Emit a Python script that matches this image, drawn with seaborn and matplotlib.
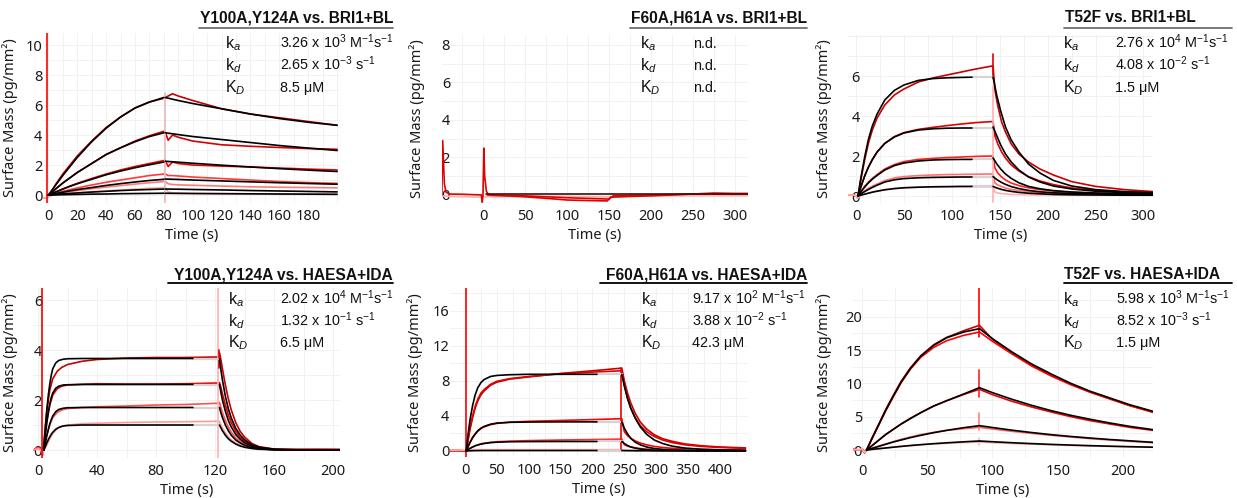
import matplotlib
matplotlib.use('Agg')
import matplotlib.pyplot as plt
import seaborn as sns
from matplotlib.lines import Line2D
from matplotlib.ticker import AutoMinorLocator

# ---------------- data ----------------
# Panel 1: Y100A,Y124A vs. BRI1+BL
p1_t_fit_on = [0, 5, 10, 15, 20, 30, 40, 50, 60, 70, 80]
p1_fit_on = [
    [0, 0.65, 1.3, 1.9, 2.5, 3.55, 4.45, 5.2, 5.8, 6.2, 6.5],
    [0, 0.4, 0.8, 1.15, 1.5, 2.1, 2.7, 3.15, 3.55, 3.9, 4.15],
    [0, 0.2, 0.4, 0.58, 0.75, 1.05, 1.35, 1.6, 1.82, 2.02, 2.2],
    [0, 0.1, 0.19, 0.28, 0.36, 0.5, 0.64, 0.76, 0.87, 0.97, 1.05],
    [0, 0.04, 0.08, 0.11, 0.14, 0.2, 0.25, 0.3, 0.34, 0.37, 0.4],
    [0, 0.01, 0.02, 0.03, 0.04, 0.06, 0.07, 0.09, 0.1, 0.11, 0.12],
]
p1_t_fit_off = [81, 90, 100, 120, 140, 160, 180, 200]
p1_fit_off = [
    [6.5, 6.3, 6.1, 5.75, 5.4, 5.1, 4.85, 4.65],
    [4.15, 4.03, 3.9, 3.7, 3.5, 3.3, 3.13, 2.97],
    [2.25, 2.19, 2.12, 1.99, 1.87, 1.76, 1.66, 1.57],
    [1.07, 1.04, 1.0, 0.94, 0.88, 0.82, 0.77, 0.72],
    [0.4, 0.39, 0.37, 0.34, 0.3, 0.27, 0.24, 0.21],
    [0.12, 0.11, 0.1, 0.09, 0.08, 0.07, 0.06, 0.05],
]
p1_t_obs_on = [-3.5, -1, 0, 5, 10, 15, 20, 30, 40, 50, 60, 70, 80]
p1_obs_on = [
    [-0.2, -0.2, -0.1, 0.7, 1.4, 2.0, 2.6, 3.6, 4.5, 5.2, 5.8, 6.2, 6.45],
    [-0.2, -0.2, -0.1, 0.4, 0.8, 1.15, 1.5, 2.1, 2.7, 3.15, 3.6, 3.95, 4.25],
    [-0.2, -0.2, -0.1, 0.2, 0.4, 0.6, 0.78, 1.1, 1.4, 1.67, 1.9, 2.1, 2.3],
    [-0.2, -0.2, -0.1, 0.12, 0.25, 0.36, 0.47, 0.67, 0.85, 1.0, 1.15, 1.3, 1.4],
    [-0.2, -0.2, -0.1, 0.08, 0.16, 0.23, 0.3, 0.42, 0.53, 0.63, 0.73, 0.82, 0.9],
    [-0.2, -0.2, -0.1, 0.04, 0.08, 0.12, 0.16, 0.22, 0.28, 0.34, 0.4, 0.45, 0.5],
]
p1_t_obs_off = [81, 83, 86, 90, 100, 120, 140, 160, 180, 200]
p1_obs_off = [
    [6.5, 6.6, 6.75, 6.6, 6.3, 5.75, 5.4, 5.15, 4.9, 4.65],
    [4.2, 3.65, 4.0, 3.85, 3.6, 3.35, 3.25, 3.17, 3.1, 3.05],
    [2.3, 1.9, 2.2, 2.1, 2.0, 1.93, 1.87, 1.8, 1.73, 1.67],
    [1.4, 1.3, 1.3, 1.27, 1.2, 1.1, 1.0, 0.9, 0.83, 0.78],
    [0.9, 0.75, 0.7, 0.68, 0.65, 0.6, 0.55, 0.52, 0.5, 0.48],
    [0.5, 0.2, 0.15, 0.15, 0.12, 0.1, 0.08, 0.05, 0.05, 0.04],
]
p1_spike_t = [-1, 80.5]
p1_spike_lo = [-0.5, -0.5]
p1_spike_hi = [12, 6.8]

# Panel 2: F60A,H61A vs. BRI1+BL (no binding)
p2_t_obs_a = [-49, -48, -46, -44, -40, -20, -2, -1, 0, 1, 2, 4, 6, 10, 30, 50,
              75, 100, 125, 148, 152, 175, 200, 225, 250, 275, 300, 315]
p2_obs_a = [0.0, 2.9, 0.6, 0.15, 0.05, 0.03, 0.0, -0.4, 0.0, 2.5, 1.0, 0.2, 0.05,
            -0.02, -0.05, -0.1, -0.18, -0.27, -0.3, -0.32, -0.12, -0.08, -0.05,
            0.0, 0.05, 0.1, 0.08, 0.08]
p2_t_obs_b = [5, 50, 100, 150, 155, 200, 250, 315]
p2_obs_b = [0.0, -0.05, -0.15, -0.22, -0.05, 0.0, 0.05, 0.05]
p2_t_obs_c = [-49, -40, -20, -2, 0, 10, 50, 100, 150, 200, 250, 315]
p2_obs_c = [-0.05, -0.08, -0.1, -0.12, -0.1, -0.1, -0.08, -0.08, -0.1, -0.05, -0.05, -0.05]
p2_t_fit = [3, 315]
p2_fit = [0.03, 0.03]

# Panel 3: T52F vs. BRI1+BL
p3_t_fit_on = [2, 5, 9, 13, 17, 22, 30, 40, 50, 65, 80, 95, 110, 121]
p3_fit_on = [
    [0, 0.9, 1.95, 2.85, 3.5, 4.1, 4.8, 5.28, 5.55, 5.78, 5.87, 5.91, 5.93, 5.94],
    [0, 0.45, 1.0, 1.45, 1.82, 2.2, 2.63, 2.95, 3.15, 3.3, 3.36, 3.39, 3.4, 3.4],
    [0, 0.2, 0.45, 0.66, 0.84, 1.03, 1.3, 1.52, 1.65, 1.75, 1.8, 1.82, 1.83, 1.83],
    [0, 0.1, 0.22, 0.33, 0.43, 0.54, 0.7, 0.81, 0.87, 0.91, 0.93, 0.94, 0.95, 0.95],
    [0, 0.04, 0.09, 0.14, 0.19, 0.24, 0.31, 0.37, 0.41, 0.44, 0.46, 0.47, 0.48, 0.48],
]
p3_t_fit_off = [143, 147, 151, 156, 162, 170, 180, 192, 206, 225, 250, 280, 310]
p3_fit_off = [
    [5.95, 5.0, 4.25, 3.45, 2.8, 2.2, 1.6, 1.15, 0.78, 0.5, 0.32, 0.22, 0.17],
    [3.45, 3.0, 2.55, 2.1, 1.7, 1.3, 0.95, 0.7, 0.5, 0.35, 0.24, 0.17, 0.13],
    [1.9, 1.6, 1.35, 1.1, 0.88, 0.66, 0.48, 0.36, 0.27, 0.2, 0.15, 0.12, 0.1],
    [0.97, 0.82, 0.7, 0.58, 0.47, 0.37, 0.28, 0.21, 0.16, 0.13, 0.1, 0.08, 0.07],
    [0.48, 0.4, 0.34, 0.28, 0.23, 0.18, 0.14, 0.11, 0.08, 0.06, 0.05, 0.04, 0.04],
]
p3_t_obs_on = [-8, -3, 0, 2, 5, 9, 13, 17, 22, 30, 40, 50, 65, 80, 95, 110, 125, 142]
p3_obs_on = [
    [0.05, 0.05, 0.0, -0.1, 0.8, 1.8, 2.65, 3.3, 3.9, 4.55, 5.05, 5.35, 5.7, 5.9, 6.05, 6.2, 6.35, 6.5],
    [0.05, 0.05, 0.0, -0.1, 0.45, 1.0, 1.45, 1.82, 2.2, 2.63, 2.97, 3.17, 3.33, 3.43, 3.52, 3.6, 3.67, 3.72],
    [0.05, 0.05, 0.0, -0.1, 0.22, 0.48, 0.7, 0.88, 1.07, 1.35, 1.57, 1.72, 1.83, 1.88, 1.92, 1.95, 1.98, 2.0],
    [0.05, 0.05, 0.0, -0.1, 0.12, 0.26, 0.38, 0.49, 0.6, 0.77, 0.9, 0.97, 1.02, 1.05, 1.07, 1.08, 1.09, 1.1],
    [0.05, 0.05, 0.0, -0.1, 0.05, 0.1, 0.15, 0.2, 0.25, 0.32, 0.38, 0.42, 0.44, 0.45, 0.45, 0.46, 0.46, 0.46],
]
p3_t_obs_off = [143, 145, 148, 152, 156, 162, 170, 180, 192, 206, 225, 250, 280, 310]
p3_obs_off = [
    [6.5, 5.3, 4.5, 3.7, 3.2, 2.6, 2.1, 1.7, 1.35, 1.05, 0.72, 0.48, 0.32, 0.22],
    [3.72, 3.0, 2.6, 2.2, 1.9, 1.55, 1.25, 0.97, 0.75, 0.57, 0.4, 0.28, 0.2, 0.16],
    [2.0, 1.4, 1.15, 0.95, 0.8, 0.65, 0.52, 0.41, 0.32, 0.25, 0.18, 0.14, 0.11, 0.1],
    [1.1, 0.65, 0.55, 0.47, 0.4, 0.33, 0.27, 0.22, 0.17, 0.14, 0.11, 0.09, 0.08, 0.08],
    [0.46, 0.2, 0.15, 0.12, 0.1, 0.08, 0.07, 0.06, 0.05, 0.05, 0.05, 0.05, 0.05, 0.05],
]
p3_spike_t = [143, 143]
p3_spike_lo = [-0.3, 5.9]
p3_spike_hi = [5.5, 7.1]

# Panel 4: Y100A,Y124A vs. HAESA+IDA
p4_t_fit_on = [4, 5, 6, 7, 8, 9, 10, 12, 14, 17, 20, 30, 50, 80, 105]
p4_fit_on = [
    [0, 0.9, 1.6, 2.2, 2.65, 3.0, 3.25, 3.48, 3.58, 3.63, 3.65, 3.66, 3.66, 3.66, 3.66],
    [0, 0.6, 1.1, 1.5, 1.85, 2.1, 2.28, 2.47, 2.55, 2.6, 2.61, 2.62, 2.62, 2.62, 2.62],
    [0, 0.3, 0.58, 0.83, 1.05, 1.22, 1.36, 1.53, 1.62, 1.67, 1.69, 1.7, 1.7, 1.7, 1.7],
    [0, 0.15, 0.29, 0.42, 0.53, 0.63, 0.71, 0.83, 0.9, 0.96, 0.98, 1.0, 1.0, 1.0, 1.0],
]
p4_t_fit_off = [123, 124, 125, 127, 129, 131, 134, 137, 140, 145, 150, 160, 175, 205]
p4_fit_off = [
    [3.66, 3.2, 2.8, 2.15, 1.65, 1.28, 0.87, 0.6, 0.41, 0.21, 0.11, 0.03, 0.01, 0.0],
    [2.62, 2.3, 2.0, 1.55, 1.18, 0.92, 0.62, 0.43, 0.29, 0.15, 0.08, 0.02, 0.0, 0.0],
    [1.7, 1.48, 1.3, 1.0, 0.77, 0.59, 0.4, 0.28, 0.19, 0.1, 0.05, 0.01, 0.0, 0.0],
    [1.0, 0.88, 0.77, 0.59, 0.45, 0.35, 0.24, 0.16, 0.11, 0.06, 0.03, 0.01, 0.0, 0.0],
]
p4_t_obs_on = [-3, 0, 2, 3, 4, 5, 6, 8, 10, 13, 16, 20, 30, 40, 60, 80, 100, 122]
p4_obs_on = [
    [0.0, 0.1, 0.0, -0.2, 0.3, 1.0, 1.6, 2.4, 2.85, 3.15, 3.3, 3.42, 3.55, 3.62, 3.68, 3.7, 3.7, 3.72],
    [0.0, 0.1, 0.0, -0.2, 0.3, 0.8, 1.2, 1.8, 2.2, 2.45, 2.55, 2.6, 2.63, 2.65, 2.64, 2.64, 2.65, 2.68],
    [0.0, 0.1, 0.0, -0.2, 0.1, 0.35, 0.6, 1.0, 1.3, 1.5, 1.6, 1.66, 1.7, 1.73, 1.76, 1.8, 1.82, 1.87],
    [0.0, 0.05, 0.0, -0.2, 0.0, 0.1, 0.2, 0.45, 0.65, 0.85, 0.95, 1.0, 1.05, 1.07, 1.1, 1.12, 1.13, 1.15],
]
p4_t_obs_off = [123, 124, 125, 127, 129, 131, 134, 137, 140, 145, 150, 160, 175, 190, 205]
p4_obs_off = [
    [3.9, 3.6, 3.25, 2.6, 2.05, 1.6, 1.1, 0.75, 0.52, 0.26, 0.13, 0.04, 0.02, 0.03, 0.02],
    [2.7, 2.5, 2.25, 1.8, 1.4, 1.1, 0.75, 0.5, 0.35, 0.18, 0.09, 0.03, 0.02, 0.02, 0.02],
    [1.9, 1.7, 1.5, 1.18, 0.92, 0.71, 0.48, 0.33, 0.23, 0.12, 0.06, 0.02, 0.01, 0.02, 0.01],
    [1.15, 1.0, 0.88, 0.68, 0.53, 0.41, 0.28, 0.19, 0.13, 0.07, 0.04, 0.01, 0.01, 0.01, 0.01],
]
p4_spike_t = [3, 122, 123]
p4_spike_lo = [-0.3, -0.3, 3.3]
p4_spike_hi = [7.0, 7.0, 4.0]

# Panel 5: F60A,H61A vs. HAESA+IDA
p5_t_fit_on = [2, 5, 8, 12, 16, 20, 25, 30, 40, 50, 70, 100, 150, 207]
p5_fit_on = [
    [0, 2.0, 3.6, 5.2, 6.4, 7.2, 7.8, 8.15, 8.5, 8.62, 8.7, 8.75, 8.75, 8.75],
    [0, 0.55, 1.0, 1.55, 1.95, 2.3, 2.6, 2.8, 3.05, 3.18, 3.27, 3.3, 3.32, 3.32],
    [0, 0.15, 0.3, 0.45, 0.58, 0.68, 0.78, 0.85, 0.95, 1.0, 1.05, 1.07, 1.08, 1.08],
    [0, 0.01, 0.02, 0.03, 0.04, 0.04, 0.05, 0.05, 0.05, 0.05, 0.05, 0.05, 0.05, 0.05],
]
p5_t_off = [246, 250, 255, 260, 267, 275, 285, 297, 310, 325, 345, 370, 400, 440]
p5_fit_off = [
    [8.75, 7.4, 6.0, 4.9, 3.75, 2.75, 1.9, 1.25, 0.85, 0.55, 0.33, 0.2, 0.13, 0.08],
    [3.32, 2.6, 1.95, 1.45, 1.0, 0.7, 0.45, 0.28, 0.18, 0.12, 0.08, 0.05, 0.04, 0.03],
    [1.08, 0.85, 0.62, 0.46, 0.32, 0.22, 0.14, 0.09, 0.06, 0.04, 0.03, 0.02, 0.02, 0.02],
    [0.05, 0.04, 0.03, 0.03, 0.02, 0.02, 0.02, 0.01, 0.01, 0.01, 0.01, 0.01, 0.01, 0.01],
]
p5_t_obs_on = [-23, -10, 0, 1, 2, 5, 8, 12, 16, 20, 25, 30, 40, 50, 70, 100, 150, 200, 245]
p5_obs_on = [
    [0.05, 0.05, 0.0, 0.0, 0.0, 1.3, 2.5, 3.8, 4.9, 5.7, 6.4, 6.85, 7.5, 7.85, 8.2, 8.45, 8.85, 9.15, 9.45],
    [0.05, 0.05, 0.0, 0.0, 0.0, 1.4, 2.7, 4.0, 5.1, 5.9, 6.6, 7.0, 7.6, 7.95, 8.25, 8.5, 8.8, 9.0, 9.15],
    [0.05, 0.05, 0.0, 0.0, 0.0, 0.5, 0.95, 1.5, 1.9, 2.25, 2.55, 2.75, 3.0, 3.15, 3.28, 3.38, 3.48, 3.58, 3.68],
    [0.05, 0.05, 0.0, 0.0, 0.0, 0.15, 0.3, 0.45, 0.6, 0.7, 0.8, 0.88, 0.98, 1.05, 1.12, 1.18, 1.25, 1.3, 1.35],
    [0.1, 0.1, 0.1, 0.1, 0.1, 0.12, 0.13, 0.14, 0.15, 0.15, 0.15, 0.15, 0.15, 0.15, 0.15, 0.15, 0.15, 0.15, 0.15],
]
p5_obs_off = [
    [9.45, 8.0, 6.6, 5.5, 4.3, 3.3, 2.5, 1.85, 1.4, 1.1, 0.8, 0.6, 0.45, 0.35],
    [9.15, 7.5, 6.0, 4.9, 3.8, 2.9, 2.2, 1.65, 1.25, 0.95, 0.7, 0.52, 0.4, 0.3],
    [3.68, 2.2, 1.75, 1.45, 1.15, 0.9, 0.7, 0.52, 0.4, 0.3, 0.22, 0.16, 0.12, 0.1],
    [1.35, 0.7, 0.55, 0.45, 0.36, 0.28, 0.21, 0.16, 0.12, 0.1, 0.08, 0.06, 0.05, 0.05],
    [0.15, 0.1, 0.1, 0.1, 0.1, 0.1, 0.1, 0.1, 0.1, 0.1, 0.1, 0.1, 0.1, 0.1],
]
p5_spike_t = [1.5, 245]
p5_spike_lo = [-0.7, 0.2]
p5_spike_hi = [19.0, 9.5]

# Panel 6: T52F vs. HAESA+IDA
p6_t_fit_on = [3.5, 8, 13, 18, 24, 30, 37, 45, 55, 65, 78, 90]
p6_fit_on = [
    [0, 1.9, 3.9, 5.9, 8.1, 10.2, 12.2, 14.1, 15.7, 16.85, 17.7, 18.2],
    [0, 0.7, 1.5, 2.3, 3.1, 3.9, 4.7, 5.6, 6.6, 7.4, 8.4, 9.35],
    [0, 0.25, 0.55, 0.85, 1.2, 1.5, 1.85, 2.2, 2.6, 2.95, 3.35, 3.65],
    [0, 0.1, 0.2, 0.3, 0.42, 0.54, 0.67, 0.8, 0.95, 1.08, 1.23, 1.35],
]
p6_t_off = [90, 100, 115, 130, 145, 160, 175, 190, 205, 223]
p6_fit_off = [
    [18.2, 16.7, 14.7, 12.9, 11.4, 10.0, 8.8, 7.8, 6.8, 5.8],
    [9.35, 8.6, 7.6, 6.7, 5.9, 5.2, 4.6, 4.05, 3.55, 3.05],
    [3.65, 3.37, 2.97, 2.62, 2.3, 2.03, 1.79, 1.57, 1.38, 1.15],
    [1.35, 1.24, 1.09, 0.96, 0.84, 0.74, 0.65, 0.57, 0.5, 0.42],
]
p6_t_obs_on = [-7, -2, 0, 2, 3.5, 8, 13, 18, 24, 30, 37, 45, 55, 65, 78, 90]
p6_obs_on = [
    [0.1, 0.0, 0.2, -0.4, 0.0, 1.9, 3.9, 6.0, 8.2, 10.3, 12.3, 14.1, 15.8, 16.9, 17.9, 18.7],
    [0.1, 0.0, 0.2, -0.4, 0.0, 1.8, 3.8, 5.8, 8.0, 10.1, 12.1, 13.9, 15.4, 16.4, 17.2, 17.7],
    [0.1, 0.0, 0.2, -0.4, 0.0, 0.7, 1.5, 2.3, 3.1, 3.9, 4.75, 5.6, 6.6, 7.4, 8.35, 9.1],
    [0.1, 0.0, 0.2, -0.4, 0.0, 0.3, 0.6, 0.9, 1.25, 1.6, 1.95, 2.3, 2.65, 2.95, 3.2, 3.4],
    [0.1, 0.0, 0.2, -0.4, 0.0, 0.1, 0.2, 0.3, 0.42, 0.53, 0.65, 0.78, 0.9, 1.0, 1.12, 1.2],
]
p6_obs_off = [
    [18.7, 16.6, 14.5, 12.7, 11.2, 9.85, 8.7, 7.7, 6.7, 5.7],
    [17.7, 16.3, 14.4, 12.6, 11.1, 9.8, 8.65, 7.65, 6.65, 5.65],
    [9.1, 8.3, 7.3, 6.45, 5.7, 5.0, 4.4, 3.9, 3.4, 2.95],
    [3.4, 3.15, 2.8, 2.5, 2.2, 1.95, 1.7, 1.5, 1.3, 1.1],
    [1.2, 1.1, 0.98, 0.87, 0.77, 0.68, 0.6, 0.53, 0.46, 0.4],
]
p6_spike_t = [90, 90, 90, 90]
p6_spike_lo = [17.0, 8.0, 3.0, 0.8]
p6_spike_hi = [25.0, 12.0, 5.5, 1.8]

titles = ['Y100A,Y124A vs. BRI1+BL', 'F60A,H61A vs. BRI1+BL', 'T52F vs. BRI1+BL',
          'Y100A,Y124A vs. HAESA+IDA', 'F60A,H61A vs. HAESA+IDA', 'T52F vs. HAESA+IDA']
param_names = ['k$_a$', 'k$_d$', 'K$_D$']
param_values = [
    ['3.26 x 10$^{3}$ M$^{-1}$s$^{-1}$', '2.65 x 10$^{-3}$ s$^{-1}$', '8.5 μM'],
    ['n.d.', 'n.d.', 'n.d.'],
    ['2.76 x 10$^{4}$ M$^{-1}$s$^{-1}$', '4.08 x 10$^{-2}$ s$^{-1}$', '1.5 μM'],
    ['2.02 x 10$^{4}$ M$^{-1}$s$^{-1}$', '1.32 x 10$^{-1}$ s$^{-1}$', '6.5 μM'],
    ['9.17 x 10$^{2}$ M$^{-1}$s$^{-1}$', '3.88 x 10$^{-2}$ s$^{-1}$', '42.3 μM'],
    ['5.98 x 10$^{3}$ M$^{-1}$s$^{-1}$', '8.52 x 10$^{-3}$ s$^{-1}$', '1.5 μM'],
]
x_ticks = [list(range(0, 181, 20)), list(range(0, 301, 50)), list(range(0, 301, 50)),
           list(range(0, 201, 40)), list(range(0, 401, 50)), list(range(0, 201, 50))]
y_ticks = [[0, 2, 4, 6, 8, 10], [0, 2, 4, 6, 8], [0, 2, 4, 6],
           [0, 2, 4, 6], [0, 4, 8, 12, 16], [0, 5, 10, 15, 20]]

# ---------------- style ----------------
sns.set_theme(style='white')
plt.rcParams['font.family'] = ['Noto Sans', 'DejaVu Sans']
plt.rcParams['mathtext.fontset'] = 'custom'
plt.rcParams['mathtext.rm'] = 'Liberation Sans'
plt.rcParams['mathtext.it'] = 'Liberation Sans:italic'
plt.rcParams['mathtext.bf'] = 'Liberation Sans:bold'

W, H = 1237, 498
fig = plt.figure(figsize=(W / 100, H / 100), dpi=100)


def fx(px):
    return px / W


def fy(py):
    return 1 - py / H


FIT = 'black'
GAP = '#d4d4d4'


def trace(ax, t, v, color, lw=1.2, z=2):
    sns.lineplot(x=t, y=v, color=color, lw=lw, ax=ax, estimator=None,
                 sort=False, zorder=z, legend=False)


def spikes(ax, ts, lo, hi, colors):
    for t, a, b, c in zip(ts, lo, hi, colors):
        trace(ax, [t, t], [a, b], c, lw=1.2, z=2)


def kinetics(ax, t_on, on, t_off, off, colors, lw=1.2, z=2):
    for c, a, b in zip(colors, on, off):
        trace(ax, t_on, a, c, lw=lw, z=z)
        trace(ax, t_off, b, c, lw=lw, z=z)


def fits(ax, t_on, on, t_off, off):
    for a, b in zip(on, off):
        trace(ax, [t_on[-1], t_off[0]], [a[-1], a[-1]], GAP, lw=1.6, z=3)
        trace(ax, t_on, a, FIT, lw=1.2, z=4)
        trace(ax, t_off, b, FIT, lw=1.2, z=4)


# axes rectangles (px: left, top, right, bottom) and limits
rects = [(43, 33, 340, 203), (442, 35, 748, 203), (848, 35, 1153, 203),
         (33, 288, 340, 458), (450, 288, 748, 457), (853, 288, 1153, 458)]
xlims = [(-3.7, 202), (-48.8, 315.5), (-8.4, 310), (-3.4, 204.7), (-23.5, 444), (-6.9, 223)]
ylims = [(-0.53, 10.8), (-0.43, 8.53), (-0.35, 8.05), (-0.32, 6.48), (-0.69, 18.6), (-1.2, 24.3)]
ytick_pad = [0.5, -5.8, -8.6, -6.5, 0.5, -6.5]
ylabel_off = [25, 17, 16, 15, 27, 21]

axes = []
for i, (l, t, r, b) in enumerate(rects):
    ax = fig.add_axes([fx(l), fy(b), fx(r - l), (b - t) / H])
    axes.append(ax)
    ax.set_xlim(*xlims[i])
    ax.set_ylim(*ylims[i])
    ax.set_xticks(x_ticks[i])
    ax.set_yticks(y_ticks[i])
    ax.xaxis.set_minor_locator(AutoMinorLocator(2))
    ax.yaxis.set_minor_locator(AutoMinorLocator(2))
    ax.grid(True, which='both', color='#f1f1f1', lw=0.7, zorder=0)
    ax.set_axisbelow(True)
    sns.despine(ax=ax, left=True, bottom=True)
    ax.tick_params(axis='both', which='both', length=0, labelsize=10.5, labelcolor='#1a1a1a')
    ax.tick_params(axis='x', pad=4.5)
    ax.tick_params(axis='y', pad=ytick_pad[i])
    ax.set_xlabel('Time (s)', fontsize=10.5, labelpad=3, color='#1a1a1a')
    ax.set_ylabel('Surface Mass (pg/mm²)', fontsize=10.5, color='#1a1a1a')
    ax.yaxis.set_label_coords(-ylabel_off[i] / (r - l), 0.5)

reds6 = ['#c40000', '#d80000', '#f20000', '#ff3a3a', '#ff7a7a', '#ffb0b0']
reds5 = ['#c80000', '#e00000', '#ff2020', '#ff7070', '#ffb0b0']

# panel 1
ax = axes[0]
kinetics(ax, p1_t_obs_on, p1_obs_on, p1_t_obs_off, p1_obs_off, reds6)
spikes(ax, p1_spike_t, p1_spike_lo, p1_spike_hi, ['#ff0000', '#e8b8b8'])
fits(ax, p1_t_fit_on, p1_fit_on, p1_t_fit_off, p1_fit_off)

# panel 2
ax = axes[1]
trace(ax, p2_t_obs_c, p2_obs_c, '#ffb0b0')
trace(ax, p2_t_obs_b, p2_obs_b, '#e00000')
trace(ax, p2_t_obs_a, p2_obs_a, '#e00000')
trace(ax, p2_t_fit, p2_fit, '#3a1010', lw=1.2, z=4)

# panel 3
ax = axes[2]
kinetics(ax, p3_t_obs_on, p3_obs_on, p3_t_obs_off, p3_obs_off, reds5)
spikes(ax, p3_spike_t, p3_spike_lo, p3_spike_hi, ['#ffb0b0', '#e00000'])
fits(ax, p3_t_fit_on, p3_fit_on, p3_t_fit_off, p3_fit_off)

# panel 4
ax = axes[3]
kinetics(ax, p4_t_obs_on, p4_obs_on, p4_t_obs_off, p4_obs_off,
         ['#c80000', '#e80000', '#ff5050', '#ff9a9a'])
spikes(ax, p4_spike_t, p4_spike_lo, p4_spike_hi, ['#f00000', '#ffb0b0', '#e00000'])
fits(ax, p4_t_fit_on, p4_fit_on, p4_t_fit_off, p4_fit_off)

# panel 5
ax = axes[4]
kinetics(ax, p5_t_obs_on, p5_obs_on, p5_t_off, p5_obs_off,
         ['#c80000', '#e00000', '#ff0000', '#ff2a2a', '#ffb0b0'])
spikes(ax, p5_spike_t, p5_spike_lo, p5_spike_hi, ['#ff0000', '#f00000'])
fits(ax, p5_t_fit_on, p5_fit_on, p5_t_off, p5_fit_off)

# panel 6
ax = axes[5]
kinetics(ax, p6_t_obs_on, p6_obs_on, p6_t_off, p6_obs_off,
         ['#d00000', '#ff0000', '#f00000', '#ff6060', '#ffa8a8'])
spikes(ax, p6_spike_t, p6_spike_lo, p6_spike_hi, ['#ff0000', '#ff2020', '#ff8080', '#ffb8b8'])
fits(ax, p6_t_fit_on, p6_fit_on, p6_t_off, p6_fit_off)

# titles, underlines and kinetic constants (px positions)
title_pos = [(393, 'right'), (807, 'right'), (1065, 'left'),
             (393, 'right'), (807, 'right'), (1064, 'left')]
line_x = [(199, 393), (630, 807), (1064, 1232), (168, 393), (600, 807), (1064, 1232)]
k_x = [225, 640, 1063, 228, 641, 1063]
v_x = [280, 693, 1115, 280, 692, 1116]
for i in range(6):
    top = i < 3
    base = 22.5 if top else 279
    uy = 28 if top else 283
    rows = [48, 70, 92] if top else [304, 326, 347]
    ucol = '#707070' if top else 'black'
    x0, ha = title_pos[i]
    fig.text(fx(x0), fy(base), titles[i], fontfamily='Liberation Sans', fontweight='bold',
             fontsize=11.2, ha=ha, va='baseline', color='#111111')
    fig.add_artist(Line2D([fx(line_x[i][0]), fx(line_x[i][1])], [fy(uy), fy(uy)],
                          color=ucol, lw=1.3, transform=fig.transFigure))
    for j in range(3):
        fig.text(fx(k_x[i]), fy(rows[j]), param_names[j], fontfamily='Liberation Sans',
                 fontsize=11.5, va='baseline', color='#111111')
        fig.text(fx(v_x[i]), fy(rows[j]), param_values[i][j], fontfamily='Liberation Sans',
                 fontsize=10.4, va='baseline', color='#111111')

fig.savefig('out.png', dpi=100)
